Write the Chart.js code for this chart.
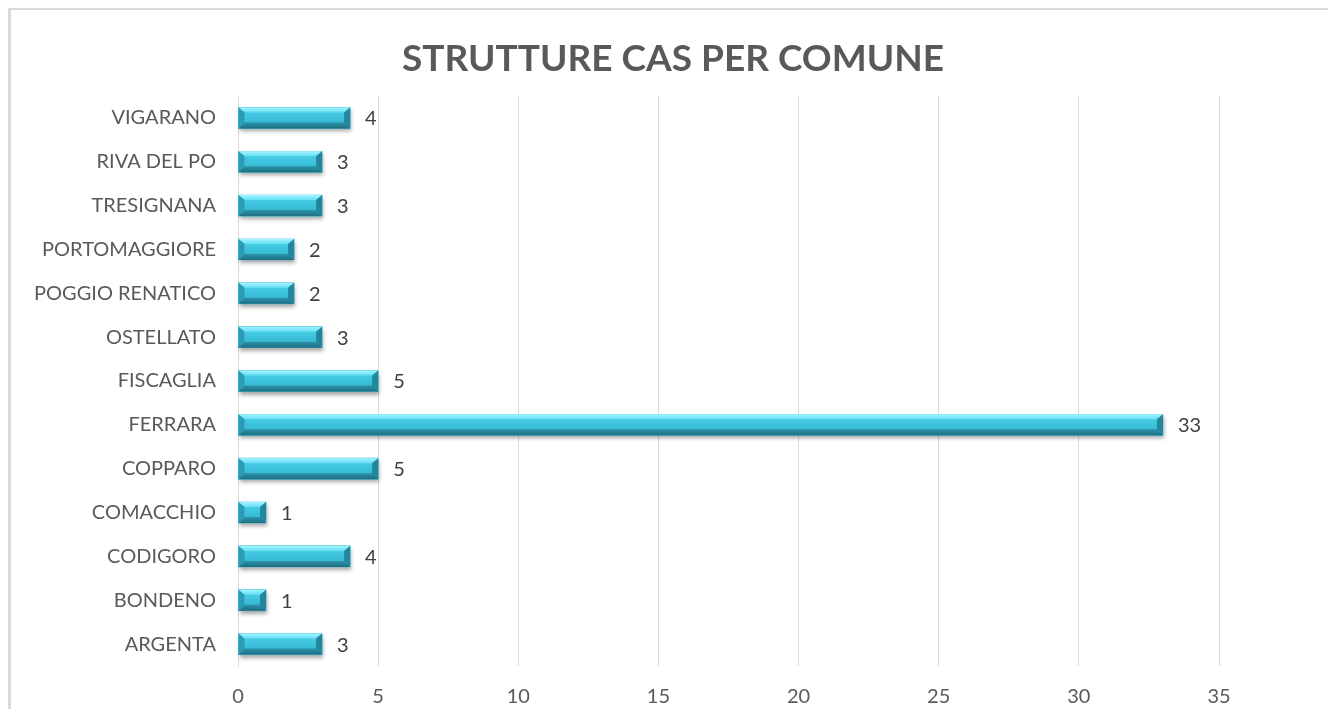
<!DOCTYPE html>
<html>
<head>
<meta charset="utf-8">
<title>Strutture CAS per comune</title>
<script src="https://cdn.jsdelivr.net/npm/chart.js@4.4.1/dist/chart.umd.min.js"></script>
<style>
body { margin: 0; background: #fff; overflow: hidden; }
#wrap { width: 1328px; height: 709px; }
</style>
</head>
<body>
<div id="wrap"><canvas id="casChart" width="1328" height="709"></canvas></div>
<script>
const comuni = ["ARGENTA", "BONDENO", "CODIGORO", "COMACCHIO", "COPPARO", "FERRARA", "FISCAGLIA",
    "OSTELLATO", "POGGIO RENATICO", "PORTOMAGGIORE", "TRESIGNANA", "RIVA DEL PO", "VIGARANO"];
const strutture = [3, 1, 4, 1, 5, 33, 5, 3, 2, 2, 3, 3, 4];
const xTicks = [0, 5, 10, 15, 20, 25, 30, 35];
const titolo = "STRUTTURE CAS PER COMUNE";

const textFont = "Lato";
const textColor = "#595959";

// chart frame: only its left and top edges fall inside the canvas
const frame = { left: 8, top: 8, width: 1330 };

const frameAndTitle = {
    id: "frameAndTitle",
    beforeDraw(chart) {
        const ctx = chart.ctx;
        ctx.save();
        ctx.fillStyle = "#d9d9d9";
        ctx.fillRect(frame.left, frame.top, 3, chart.height);
        ctx.fillRect(frame.left, frame.top, chart.width, 2);
        ctx.font = "bold 37px " + textFont;
        ctx.fillStyle = textColor;
        ctx.textAlign = "center";
        ctx.textBaseline = "alphabetic";
        ctx.fillText(titolo, frame.left + frame.width / 2, 71);
        ctx.restore();
    }
};

function barBox(bar) {
    const p = bar.getProps(["x", "y", "base", "height"], true);
    return { left: Math.min(p.base, p.x), right: Math.max(p.base, p.x), top: p.y - p.height / 2, bottom: p.y + p.height / 2, y: p.y };
}

// soft shadow under each bar, then bevelled faces on top
const barBevel = {
    id: "barBevel",
    beforeDatasetsDraw(chart) {
        const ctx = chart.ctx;
        chart.getDatasetMeta(0).data.forEach(bar => {
            const b = barBox(bar);
            ctx.save();
            ctx.shadowColor = "rgba(0,0,0,0.35)";
            ctx.shadowBlur = 4;
            ctx.shadowOffsetX = 1;
            ctx.shadowOffsetY = 3;
            ctx.fillStyle = "#2a8aa1";
            ctx.fillRect(b.left, b.top, b.right - b.left, b.bottom - b.top);
            ctx.restore();
        });
    },
    afterDatasetsDraw(chart) {
        const ctx = chart.ctx;
        chart.getDatasetMeta(0).data.forEach((bar, i) => {
            const b = barBox(bar);
            const bv = Math.min(6, (b.right - b.left) / 2);
            const tb = 5;
            const poly = (pts, fill) => {
                ctx.beginPath();
                ctx.moveTo(pts[0][0], pts[0][1]);
                pts.slice(1).forEach(q => ctx.lineTo(q[0], q[1]));
                ctx.closePath();
                ctx.fillStyle = fill;
                ctx.fill();
            };
            ctx.save();
            // front face
            const face = ctx.createLinearGradient(0, b.top, 0, b.bottom);
            face.addColorStop(0, "#4fd3ec");
            face.addColorStop(0.5, "#3cc2dc");
            face.addColorStop(1, "#33aec8");
            ctx.fillStyle = face;
            ctx.fillRect(b.left, b.top, b.right - b.left, b.bottom - b.top);
            // top facet
            const topG = ctx.createLinearGradient(0, b.top, 0, b.top + tb);
            topG.addColorStop(0, "#a6f4ff");
            topG.addColorStop(1, "#62def5");
            poly([[b.left, b.top], [b.right, b.top], [b.right - bv, b.top + tb], [b.left + bv, b.top + tb]], topG);
            // bottom facet
            const botG = ctx.createLinearGradient(0, b.bottom - bv, 0, b.bottom);
            botG.addColorStop(0, "#2b93ab");
            botG.addColorStop(1, "#1f6e82");
            poly([[b.left, b.bottom], [b.right, b.bottom], [b.right - bv, b.bottom - bv], [b.left + bv, b.bottom - bv]], botG);
            // end facets
            poly([[b.left, b.top], [b.left + bv, b.top + tb], [b.left + bv, b.bottom - bv], [b.left, b.bottom]], "#2c9bb4");
            poly([[b.right, b.top], [b.right - bv, b.top + tb], [b.right - bv, b.bottom - bv], [b.right, b.bottom]], "#23869d");
            ctx.restore();

            // value label
            ctx.save();
            ctx.font = "20px " + textFont;
            ctx.fillStyle = "#404040";
            ctx.textAlign = "left";
            ctx.textBaseline = "middle";
            ctx.fillText(String(strutture[i]), b.right + 15, b.y + 1);
            ctx.restore();
        });
    }
};

const chart = new Chart(document.getElementById("casChart"), {
    type: "bar",
    data: {
        labels: comuni,
        datasets: [{
            data: strutture,
            backgroundColor: "#3cc2dc",
            borderWidth: 0,
            barThickness: 21
        }]
    },
    options: {
        indexAxis: "y",
        responsive: false,
        animation: false,
        layout: { padding: { left: 12, right: 109, top: 96, bottom: 0 } },
        plugins: {
            legend: { display: false },
            tooltip: { enabled: false },
            title: { display: false }
        },
        scales: {
            x: {
                min: 0,
                max: 35,
                afterBuildTicks(scale) {
                    scale.ticks = xTicks.map(v => ({ value: v }));
                },
                grid: { color: "#d9d9d9", drawTicks: false },
                border: { display: false },
                ticks: { color: textColor, font: { family: textFont, size: 20 }, padding: 19 },
                afterFit(scale) { scale.height = 43; }
            },
            y: {
                reverse: true,
                grid: { display: false, drawTicks: false },
                border: { display: true, color: "#d9d9d9", width: 1 },
                ticks: { color: textColor, font: { family: textFont, size: 20 }, padding: 22 },
                afterFit(scale) { scale.width = 226; }
            }
        }
    },
    plugins: [frameAndTitle, barBevel]
});
</script>
</body>
</html>
